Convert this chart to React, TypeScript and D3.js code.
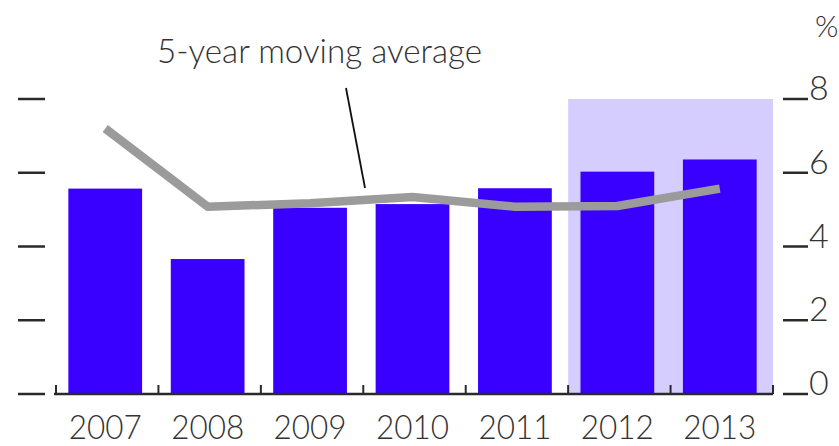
import React from "react";
import * as d3 from "d3";

const years = ["2007", "2008", "2009", "2010", "2011", "2012", "2013"];
const barValues = [5.57, 3.66, 5.05, 5.15, 5.58, 6.03, 6.36];
const avgValues = [7.2, 5.08, 5.17, 5.34, 5.08, 5.1, 5.57];
const yTicks = [0, 2, 4, 6, 8];
const shadedYears = ["2012", "2013"];
const lineLabel = "5-year moving average";
const unitLabel = "%";

const W = 839;
const H = 446;
const FONT = "Lato, 'Open Sans', 'DejaVu Sans', sans-serif";

export default function App() {
  const x = d3.scaleBand<string>().domain(years).range([54, 771]).paddingInner(0.28).paddingOuter(0.14);
  const y = d3.scaleLinear().domain([0, 8]).range([394, 99]);
  const step = x.step();
  const boundaries = years.map((_, i) => 54 + i * step).concat([54 + years.length * step]);
  const cx = (yr: string) => (x(yr) as number) + x.bandwidth() / 2;

  const line = d3
    .line<number>()
    .x((_, i) => cx(years[i]))
    .y((d) => y(d))
    .curve(d3.curveLinear);

  const shadeX0 = 54 + years.indexOf(shadedYears[0]) * step + 2;
  const shadeX1 = 54 + (years.indexOf(shadedYears[shadedYears.length - 1]) + 1) * step + 2;

  return (
    <svg width={W} height={H} style={{ position: "absolute", left: 0, top: 0, background: "#fff" }}>
      <rect x={shadeX0} y={y(8)} width={shadeX1 - shadeX0} height={y(0) - y(8)} fill="#D5CDFE" />
      {barValues.map((v, i) => (
        <rect
          key={years[i]}
          x={x(years[i])}
          y={y(v)}
          width={x.bandwidth()}
          height={y(0) - y(v)}
          fill="#3A00FF"
        />
      ))}
      <path d={line(avgValues) || ""} fill="none" stroke="#9B9B9B" strokeWidth={8.5} strokeLinejoin="round" />
      <line x1={54} x2={773} y1={y(0)} y2={y(0)} stroke="#2a2a2a" strokeWidth={2.5} />
      {boundaries.map((b, i) => (
        <line key={i} x1={b + 2} x2={b + 2} y1={y(0)} y2={y(0) - 9} stroke="#2a2a2a" strokeWidth={2} />
      ))}
      {yTicks.map((t) => (
        <g key={t}>
          <line x1={18} x2={45} y1={y(t)} y2={y(t)} stroke="#2a2a2a" strokeWidth={2.5} />
          <line x1={783} x2={808} y1={y(t)} y2={y(t)} stroke="#2a2a2a" strokeWidth={2.5} />
          <text x={809} y={y(t) + 1} fontFamily={FONT} fontWeight={300} fontSize={34} fill="#333">
            {t}
          </text>
        </g>
      ))}
      <text x={815} y={37} fontFamily={FONT} fontWeight={300} fontSize={30} fill="#333">
        {unitLabel}
      </text>
      {years.map((yr) => (
        <text
          key={yr}
          x={cx(yr)}
          y={439}
          textAnchor="middle"
          fontFamily={FONT}
          fontWeight={300}
          fontSize={34}
          fill="#333"
          textLength={73}
          lengthAdjust="spacingAndGlyphs"
        >
          {yr}
        </text>
      ))}
      <text
        x={157}
        y={63}
        fontFamily={FONT}
        fontWeight={300}
        fontSize={34}
        fill="#333"
        textLength={325}
        lengthAdjust="spacingAndGlyphs"
      >
        {lineLabel}
      </text>
      <line x1={346} y1={88} x2={365} y2={188} stroke="#111" strokeWidth={1.8} />
    </svg>
  );
}
